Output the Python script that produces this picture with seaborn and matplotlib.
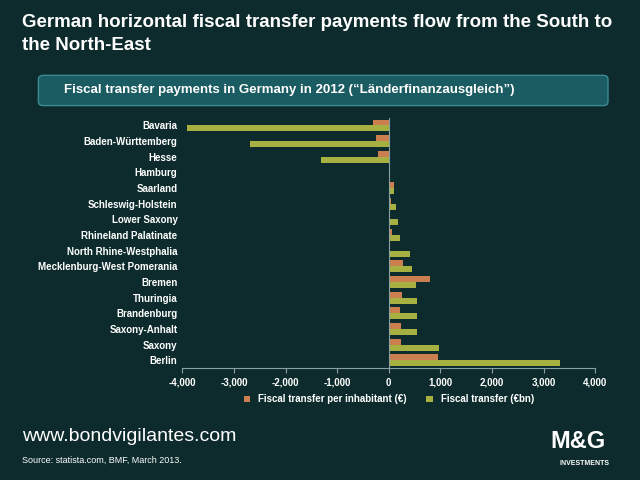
import matplotlib
matplotlib.use("Agg")
import matplotlib.pyplot as plt
import seaborn as sns
import pandas as pd
from matplotlib.patches import FancyBboxPatch

states = ["Bavaria", "Baden-Württemberg", "Hesse", "Hamburg", "Saarland", "Schleswig-Holstein",
          "Lower Saxony", "Rhineland Palatinate", "North Rhine-Westphalia", "Mecklenburg-West Pomerania",
          "Bremen", "Thuringia", "Brandenburg", "Saxony-Anhalt", "Saxony", "Berlin"]
per_inhabitant = [-302, -251, -212, 12, 96, 45, 32, 58, 32, 277, 791, 251, 225, 238, 238, 945]
total = [-3904, -2695, -1318, 21, 96, 135, 174, 225, 405, 457, 521, 547, 547, 547, 971, 3325]
s1 = "Fiscal transfer per inhabitant (€)"
s2 = "Fiscal transfer (€bn)"

df = pd.DataFrame({"state": states * 2,
                   "value": per_inhabitant + total,
                   "series": [s1] * len(states) + [s2] * len(states)})

plt.rcParams["font.family"] = ["Liberation Sans", "DejaVu Sans"]
bg = "#0d2b2c"
fig = plt.figure(figsize=(6.4, 4.8), dpi=100, facecolor=bg)
ax = fig.add_axes([0.285, 0.233, 0.645, 0.522])
ax.set_facecolor(bg)
sns.barplot(data=df, y="state", x="value", hue="series", orient="h", ax=ax,
            palette=["#e07a3a", "#b5c42e"], width=0.75, gap=0, legend=True)
ax.set_xlim(-4000, 4000)
ax.set_xticks(range(-4000, 4001, 1000))
ax.set_xticklabels([f"{v:,}" for v in range(-4000, 4001, 1000)], color="white", fontsize=7, fontweight="bold")
ax.set_yticks(range(len(states)))
ax.set_yticklabels(states, color="white", fontsize=7, fontweight="bold")
ax.set_xlabel(""); ax.set_ylabel("")
for s in ["top", "right", "left"]:
    ax.spines[s].set_visible(False)
ax.spines["bottom"].set_color("#8aa0a0")
ax.axvline(0, color="#8aa0a0", lw=0.8)
ax.tick_params(axis="y", length=0)
ax.tick_params(axis="x", color="#8aa0a0")
leg = ax.legend(loc="upper center", bbox_to_anchor=(0.5, -0.07), ncol=2, frameon=False,
                fontsize=7, handlelength=0.7, handleheight=0.7)
for t in leg.get_texts():
    t.set_color("white"); t.set_fontweight("bold")

fig.text(0.035, 0.97, "German horizontal fiscal transfer payments flow from the South to\nthe North-East",
         color="white", fontsize=13.5, fontweight="bold", va="top", linespacing=1.45)
box = FancyBboxPatch((0.06, 0.78), 0.89, 0.063, boxstyle="round,pad=0,rounding_size=0.008",
                     transform=fig.transFigure, facecolor="#1b5c62", edgecolor="#3a8a90", lw=1)
fig.patches.append(box)
fig.text(0.1, 0.812, "Fiscal transfer payments in Germany in 2012 (“Länderfinanzausgleich”)",
         color="white", fontsize=9.5, fontweight="bold", va="center")
fig.text(0.035, 0.09, "www.bondvigilantes.com", color="white", fontsize=14, va="center")
fig.text(0.035, 0.04, "Source: statista.com, BMF, March 2013.", color="white", fontsize=6.5, va="center")
fig.text(0.86, 0.08, "M&G", color="white", fontsize=17, fontweight="bold", va="center")
fig.text(0.875, 0.035, "INVESTMENTS", color="white", fontsize=5, fontweight="bold", va="center")
fig.savefig("out.png", dpi=100, facecolor=bg)
